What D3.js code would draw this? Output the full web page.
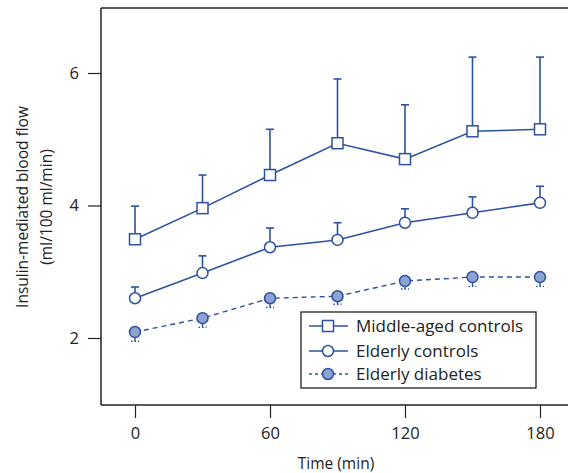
<!DOCTYPE html>
<html><head><meta charset="utf-8">
<script src="https://cdn.jsdelivr.net/npm/d3@7"></script>
<style>body{margin:0;background:#fff}svg{display:block}text{font-family:"Open Sans",sans-serif;fill:#222}</style>
</head><body><svg id="c" width="568" height="473"></svg>
<script>
const times = [0, 30, 60, 90, 120, 150, 180];
const middleAged = [3.49, 3.96, 4.46, 4.94, 4.70, 5.12, 5.15];
const middleAgedErr = [0.50, 0.50, 0.69, 0.97, 0.82, 1.12, 1.09];
const elderly = [2.60, 2.98, 3.37, 3.48, 3.74, 3.89, 4.04];
const elderlyErr = [0.17, 0.26, 0.29, 0.26, 0.21, 0.24, 0.25];
const diabetes = [2.09, 2.30, 2.60, 2.63, 2.86, 2.92, 2.92];
const diabetesErr = [0.14, 0.14, 0.14, 0.12, 0.12, 0.14, 0.14];
const xTicks = [0, 60, 120, 180];
const yTicks = [2, 4, 6];
const seriesNames = ["Middle-aged controls", "Elderly controls", "Elderly diabetes"];

const blue = "#2c52a0", fillD = "#8fa3d2";
const svg = d3.select("#c");
const L = 101, R = 568, T = 8, B = 405;
const x = d3.scaleLinear().domain([0, 180]).range([135, 540]);
const y = d3.scaleLinear().domain([2, 6]).range([338, 73]);

svg.append("line").attr("x1", L).attr("x2", R).attr("y1", T).attr("y2", T).attr("stroke", "#222").attr("stroke-width", 1.5);
const yAx = svg.append("g").attr("transform", `translate(${L},0)`)
  .call(d3.axisLeft(y).tickValues(yTicks).tickSize(13).tickPadding(9).tickFormat(d3.format("d")));
const xAx = svg.append("g").attr("transform", `translate(0,${B})`)
  .call(d3.axisBottom(x).tickValues(xTicks).tickSize(13).tickPadding(9).tickFormat(d3.format("d")));
[yAx, xAx].forEach(g => {
  g.select(".domain").remove();
  g.selectAll("line").attr("stroke", "#222").attr("stroke-width", 1.2);
  g.selectAll("text").attr("font-size", 16.5).attr("font-family", '"Open Sans",sans-serif').attr("fill", "#222");
});
svg.append("line").attr("x1", L).attr("x2", L).attr("y1", T).attr("y2", B).attr("stroke", "#222").attr("stroke-width", 1.5);
svg.append("line").attr("x1", L).attr("x2", R).attr("y1", B).attr("y2", B).attr("stroke", "#222").attr("stroke-width", 1.5);

svg.append("text").attr("x", 336).attr("y", 469).attr("text-anchor", "middle").attr("font-size", 15.5).text("Time (min)");
const yt = svg.append("text").attr("transform", "translate(28,207) rotate(-90)").attr("text-anchor", "middle").attr("font-size", 15.5);
yt.append("tspan").attr("x", 0).attr("dy", 0).text("Insulin-mediated blood flow");
yt.append("tspan").attr("x", 0).attr("dy", 24).text("(ml/100 ml/min)");

const line = d3.line().x((d, i) => x(times[i])).y(d => y(d));
const cap = 4;

function upErr(vals, errs) {
  const g = svg.append("g").attr("stroke", blue).attr("stroke-width", 1.6);
  vals.forEach((v, i) => {
    g.append("line").attr("x1", x(times[i])).attr("x2", x(times[i])).attr("y1", y(v)).attr("y2", y(v + errs[i]));
    g.append("line").attr("x1", x(times[i]) - cap).attr("x2", x(times[i]) + cap).attr("y1", y(v + errs[i])).attr("y2", y(v + errs[i]));
  });
}
upErr(middleAged, middleAgedErr);
upErr(elderly, elderlyErr);
const gd = svg.append("g").attr("stroke", blue).attr("stroke-width", 1.4);
diabetes.forEach((v, i) => {
  gd.append("line").attr("x1", x(times[i])).attr("x2", x(times[i])).attr("y1", y(v)).attr("y2", y(v - diabetesErr[i]));
  gd.append("line").attr("x1", x(times[i]) - cap).attr("x2", x(times[i]) + cap).attr("y1", y(v - diabetesErr[i])).attr("y2", y(v - diabetesErr[i])).attr("stroke-dasharray", "1.5,2");
});

svg.append("path").datum(middleAged).attr("d", line).attr("fill", "none").attr("stroke", blue).attr("stroke-width", 1.6);
svg.append("path").datum(elderly).attr("d", line).attr("fill", "none").attr("stroke", blue).attr("stroke-width", 1.6);
svg.append("path").datum(diabetes).attr("d", line).attr("fill", "none").attr("stroke", blue).attr("stroke-width", 1.4).attr("stroke-dasharray", "5,4");

function square(g, cx, cy) { g.append("rect").attr("x", cx - 5.5).attr("y", cy - 5.5).attr("width", 11).attr("height", 11).attr("fill", "#fff").attr("stroke", blue).attr("stroke-width", 1.5); }
function circle(g, cx, cy, f) { g.append("circle").attr("cx", cx).attr("cy", cy).attr("r", 5.5).attr("fill", f).attr("stroke", blue).attr("stroke-width", 1.5); }
const gm = svg.append("g");
middleAged.forEach((v, i) => square(gm, x(times[i]), y(v)));
elderly.forEach((v, i) => circle(gm, x(times[i]), y(v), "#fff"));
diabetes.forEach((v, i) => circle(gm, x(times[i]), y(v), fillD));

const lg = svg.append("g");
lg.append("rect").attr("x", 301).attr("y", 312).attr("width", 235).attr("height", 76).attr("fill", "#fff").attr("stroke", "#222").attr("stroke-width", 1.3);
const ly = [326, 351, 374];
seriesNames.forEach((name, i) => {
  const l = lg.append("line").attr("x1", 309).attr("x2", 348).attr("y1", ly[i]).attr("y2", ly[i]).attr("stroke", blue).attr("stroke-width", 1.4);
  if (i === 2) l.attr("stroke-dasharray", "3,3");
  if (i === 0) square(lg, 328, ly[i]);
  else circle(lg, 328, ly[i], i === 1 ? "#fff" : fillD);
  lg.append("text").attr("x", 356).attr("y", ly[i]).attr("dy", "0.35em").attr("font-size", 17).text(name);
});
</script></body></html>
